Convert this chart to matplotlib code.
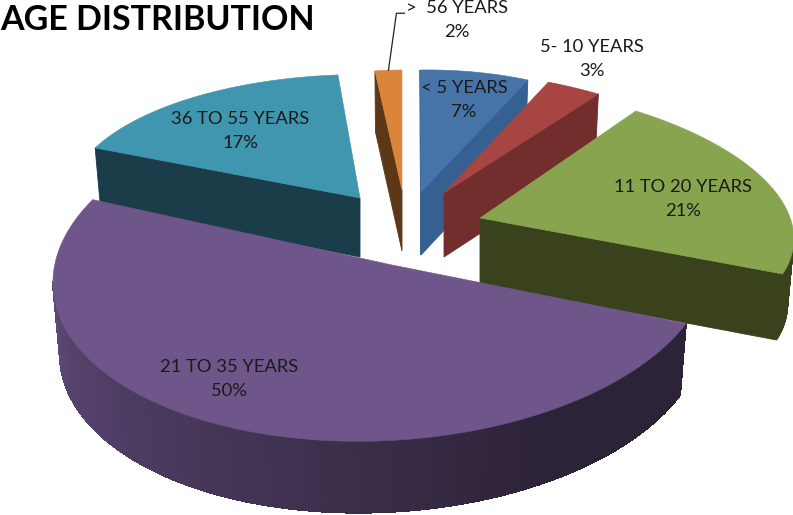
"""Exploded 3D-look pie of the age distribution, drawn as flat polygons."""
import matplotlib

matplotlib.use("Agg")
import matplotlib.pyplot as plt
import numpy as np
from matplotlib.collections import LineCollection
from matplotlib.colors import to_rgb

CATEGORIES = ["< 5 YEARS", "5- 10 YEARS", "11 TO 20 YEARS", "21 TO 35 YEARS",
              "36 TO 55 YEARS", ">  56 YEARS"]
PERCENT = [7, 3, 21, 50, 17, 2]

TOP_COLORS = ["#4674A8", "#A64542", "#88A44F", "#6F568A", "#3F96AE", "#DA843C"]
SIDE_COLORS = ["#35608F", "#722E2C", "#39421D", "#2D2338", "#1B3D49", "#5D3716"]

# per-slice frame in pixels:
# apex x, apex y, rx, ry, shear x, shear y, depth, arc dx, arc dy, end stretch (deg)
FRAMES = [
    (421, 192, 253, 122, -1, 3.7, 63, 0, 0, 0),
    (444, 193, 295, 123, -23.5, -1, 64, 0, 0, 0),
    (480, 218, 312, 136.7, -34, -6.1, 66, 0, 0, 0),
    (392, 265, 329, 171, 5, 10, 71, -10, 5, 6),
    (360, 198, 290.6, 123.4, 14.5, -5, 59, 0, 0, 0),
    (402, 190, 216, 120, 0, 0, 61, 0, 0, 0),
]
LABEL_POS = [(464, 100), (592, 59), (683, 199), (229, 379), (240, 131), (457, 20)]
DRAW_ORDER = [5, 0, 1, 4, 2, 3]
BOTTOM_SHRINK = 0.98
RIM_LIGHT = "#5F4A79"


def frame_xy(frame, theta):
    x0, y0, rx, ry, sx, sy, _, dx, dy, _ = frame
    x = x0 + dx + rx * np.sin(theta) + sx * np.cos(theta)
    y = y0 + dy - ry * np.cos(theta) - sy * np.sin(theta)
    return x, y


def bottom_xy(frame, x, y):
    return frame[0] + (x - frame[0]) * BOTTOM_SHRINK, y + frame[6]


def draw_slice(ax, i, t0, t1):
    frame = FRAMES[i]
    z = DRAW_ORDER.index(i) * 2
    thetas = np.linspace(t0, t1 + np.radians(frame[9]), 200)
    arc_x, arc_y = frame_xy(frame, thetas)
    xs = np.r_[frame[0], arc_x]
    ys = np.r_[frame[1], arc_y]
    # walk the outline clockwise; an edge running leftwards faces the viewer
    outline_x = np.r_[xs, frame[0]]
    outline_y = np.r_[ys, frame[1]]
    side = np.array(to_rgb(SIDE_COLORS[i]))
    light = np.array(to_rgb(RIM_LIGHT))
    segs, seg_colors = [], []
    for k in range(len(xs)):
        x0, x1 = outline_x[k], outline_x[k + 1]
        if x1 >= x0:
            continue
        y0, y1 = outline_y[k], outline_y[k + 1]
        bx0, by0 = bottom_xy(frame, x0, y0)
        bx1, by1 = bottom_xy(frame, x1, y1)
        if i == 3:
            # the big slice fades from dark on the right to lighter on the left
            f = np.clip((thetas[k] - np.radians(150)) / np.radians(125), 0, 1)
            color = side + (light - side) * f
            ax.fill([x0, x1, bx1, bx0], [y0, y1, by1 + 0.5, by0 + 0.5], color=color,
                    lw=0.5, antialiased=False, zorder=2 + z)
            segs.append([(bx0, by0), (bx1, by1)])
            seg_colors.append(color)
        else:
            ax.fill([x0, x1, bx1, bx0], [y0, y1, by1, by0], color=side, lw=0.6,
                    zorder=2 + z)
    if segs:
        ax.add_collection(LineCollection(segs, colors=seg_colors, linewidths=1.0,
                                         zorder=2 + z))
    ax.fill(xs, ys, color=TOP_COLORS[i], lw=0.4, zorder=3 + z)


def main():
    fig = plt.figure(figsize=(7.93, 5.15), dpi=100)
    ax = fig.add_axes([0, 0, 1, 1])
    ax.set_xlim(0, 793)
    ax.set_ylim(515, 0)
    ax.axis("off")

    edges = np.radians(np.r_[0, np.cumsum(PERCENT)] * 3.6)
    for i in range(len(PERCENT)):
        draw_slice(ax, i, edges[i], edges[i + 1])

    # leader from the smallest slice up to its label
    lx, ly = frame_xy(FRAMES[5], (edges[5] + edges[6]) / 2)
    ax.plot([lx, lx + 8, lx + 16], [ly, ly - 57, ly - 57], color="#222222",
            lw=0.9, zorder=30, solid_joinstyle="miter")

    for name, pct, (x, y) in zip(CATEGORIES, PERCENT, LABEL_POS):
        ax.text(x, y, f"{name}\n{pct}%", ha="center", va="center", family="Lato",
                fontsize=13.2, color="#1A1A1A", linespacing=1.62, zorder=40)

    ax.text(0, 20, "AGE DISTRIBUTION", ha="left", va="center", family="Lato",
            fontweight="bold", fontsize=24.5, color="black", zorder=40)

    fig.savefig("out.png", dpi=100)
    plt.close(fig)


if __name__ == "__main__":
    main()
